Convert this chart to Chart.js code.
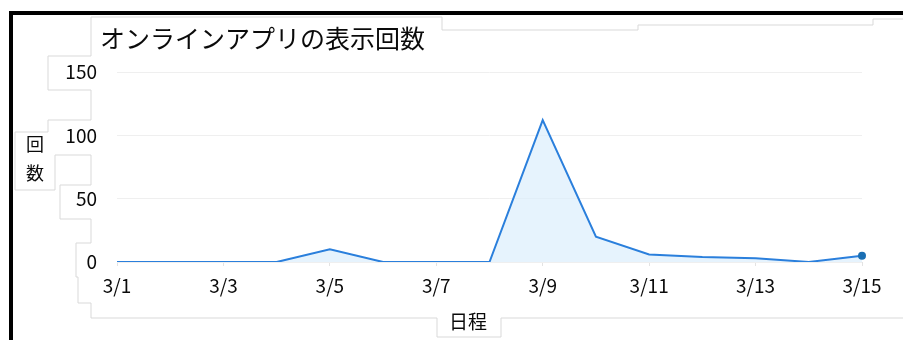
<!DOCTYPE html>
<html lang="ja">
<head>
<meta charset="utf-8">
<title>オンラインアプリの表示回数</title>
<script src="https://cdn.jsdelivr.net/npm/chart.js@4.4.1/dist/chart.umd.min.js"></script>
<style>
  html, body { margin: 0; padding: 0; background: #fff; }
  #wrap { position: relative; width: 903px; height: 340px; overflow: hidden; }
  #chart { position: absolute; left: 0; top: 0; }
  #frame { position: absolute; left: 0; top: 0; pointer-events: none; }
  .edge-top { position: absolute; left: 9px; top: 11px; width: 894px; height: 4px; background: #000; }
  .edge-left { position: absolute; left: 9px; top: 11px; width: 4px; height: 329px; background: #000; }
</style>
</head>
<body>
<div id="wrap">
  <svg id="frame" width="903" height="340">
    <path d="M91,56 V17 H442 V30 H638 V25 H873 V19 H903" fill="none" stroke="#d9d9d9" stroke-width="1"/>
    <path d="M91,56 H48 V90 H91 V120 H48 V132 H15 V190 H55 V155 H91 V185 H60 V219 H91 V243 H76 V277 H78 V303 H91 V318 H437 V337 H501 V318 H903" fill="none" stroke="#d9d9d9" stroke-width="1"/>
  </svg>
  <canvas id="chart" width="903" height="340"></canvas>
  <div class="edge-top"></div>
  <div class="edge-left"></div>
</div>
<script>
// 日別の表示回数
const dates = ['3/1', '3/2', '3/3', '3/4', '3/5', '3/6', '3/7', '3/8', '3/9', '3/10', '3/11', '3/12', '3/13', '3/14', '3/15'];
const views = [0, 0, 0, 0, 10, 0, 0, 0, 112, 20, 6, 4, 3, 0, 5];
const yTicks = [0, 50, 100, 150];

const chartTitle = 'オンラインアプリの表示回数';
const yTitle = ['回', '数'];
const xTitle = '日程';

const FONT = "'Noto Sans CJK JP', 'Noto Sans', sans-serif";

// タイトルと軸タイトル（縦軸は「回」「数」を縦に並べる）
const captions = {
  id: 'captions',
  afterDraw(chart) {
    const ctx = chart.ctx;
    ctx.save();
    ctx.fillStyle = '#0a0a0a';
    ctx.textBaseline = 'middle';

    ctx.font = '25px ' + FONT;
    ctx.textAlign = 'left';
    ctx.fillText(chartTitle, 100, 38);

    ctx.font = '18px ' + FONT;
    ctx.textAlign = 'center';
    yTitle.forEach((ch, i) => ctx.fillText(ch, 35, 144 + i * 29));

    ctx.font = '19px ' + FONT;
    ctx.fillText(xTitle, 468, 322);
    ctx.restore();
  }
};

const lastIndex = views.length - 1;

new Chart(document.getElementById('chart'), {
  type: 'line',
  data: {
    labels: dates,
    datasets: [{
      data: views,
      borderColor: '#2a7fdc',
      backgroundColor: 'rgba(220, 238, 252, 0.7)',
      borderWidth: 2,
      fill: 'origin',
      tension: 0,
      pointRadius: ctx => ctx.dataIndex === lastIndex ? 4 : 0,
      pointBackgroundColor: '#1a6fb3',
      pointBorderColor: '#1a6fb3',
      pointBorderWidth: 0
    }]
  },
  options: {
    responsive: false,
    animation: false,
    events: [],
    layout: { padding: { left: 0, right: 41, top: 72, bottom: 0 } },
    plugins: {
      legend: { display: false },
      tooltip: { enabled: false },
      title: { display: false }
    },
    scales: {
      x: {
        offset: false,
        afterFit(scale) { scale.height = 78; },
        border: { display: false },
        grid: {
          drawOnChartArea: false,
          drawTicks: true,
          tickLength: 4,
          color: ctx => (ctx.index % 2 === 0 ? '#e3e3e3' : 'rgba(0,0,0,0)')
        },
        ticks: {
          autoSkip: false,
          maxRotation: 0,
          padding: 8,
          color: '#0a0a0a',
          font: { family: FONT, size: 19 },
          callback(value, index) { return index % 2 === 0 ? dates[index] : ''; }
        }
      },
      y: {
        min: yTicks[0],
        max: yTicks[yTicks.length - 1],
        afterFit(scale) { scale.width = 117; },
        afterBuildTicks(scale) { scale.ticks = yTicks.map(v => ({ value: v })); },
        border: { display: false },
        grid: { color: '#efefef', drawTicks: false, lineWidth: 1 },
        ticks: {
          padding: 20,
          color: '#0a0a0a',
          font: { family: FONT, size: 19 }
        }
      }
    }
  },
  plugins: [captions]
});
</script>
</body>
</html>
